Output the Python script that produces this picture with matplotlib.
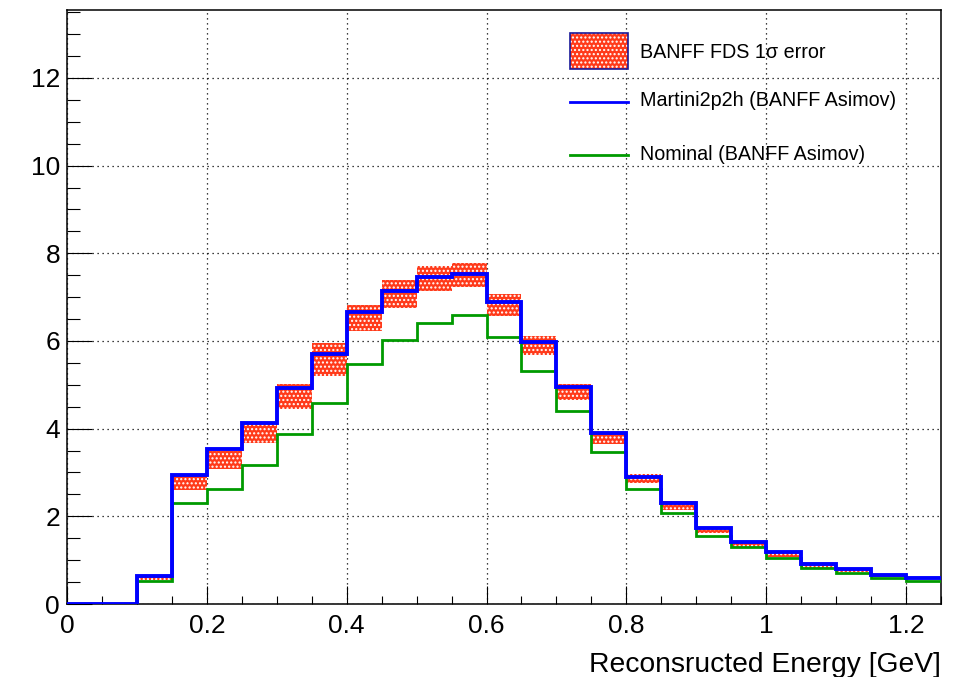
import matplotlib
matplotlib.use('Agg')
import matplotlib.pyplot as plt
from matplotlib.patches import Rectangle
from matplotlib.lines import Line2D
from matplotlib.ticker import MultipleLocator
import numpy as np

plt.rcParams['font.family'] = ['Liberation Sans', 'DejaVu Sans']

# bin edges, 0.05 GeV wide
edges = np.round(np.arange(0, 1.2501, 0.05), 3)

# Martini2p2h (BANFF Asimov)
martini = [0, 0, 0.63, 2.94, 3.53, 4.13, 4.92, 5.70, 6.66, 7.15, 7.46, 7.53,
           6.90, 5.97, 4.95, 3.90, 2.90, 2.31, 1.73, 1.42, 1.18, 0.91, 0.79,
           0.66, 0.59]
# Nominal (BANFF Asimov)
nominal = [0, 0, 0.53, 2.30, 2.63, 3.17, 3.87, 4.59, 5.48, 6.03, 6.41, 6.59,
           6.10, 5.31, 4.41, 3.47, 2.63, 2.07, 1.56, 1.29, 1.06, 0.83, 0.71,
           0.60, 0.53]
# BANFF FDS 1 sigma band
band_hi = [0, 0, 0.62, 2.91, 3.49, 4.13, 5.02, 5.95, 6.83, 7.40, 7.70, 7.79,
           7.08, 6.12, 5.02, 3.92, 2.97, 2.35, 1.74, 1.44, 1.18, 0.91, 0.80,
           0.67, 0.60]
band_lo = [0, 0, 0.55, 2.60, 3.08, 3.68, 4.44, 5.19, 6.23, 6.75, 7.13, 7.22,
           6.58, 5.68, 4.66, 3.65, 2.75, 2.15, 1.61, 1.31, 1.07, 0.83, 0.74,
           0.62, 0.56]

labels = ['BANFF FDS 1\u03c3 error', 'Martini2p2h (BANFF Asimov)',
          'Nominal (BANFF Asimov)']

band_col = '#ff3a1a'
blue = '#0000ff'
green = '#009a00'
W, H = 963, 677

fig = plt.figure(figsize=(W / 100, H / 100), dpi=100)
ax = fig.add_axes([67/W, 1 - 604/H, (941 - 67)/W, (604 - 10)/H])

lo = np.array(band_lo)
hi = np.array(band_hi)
ax.bar(edges[:-1], hi - lo, bottom=lo, width=0.05, align='edge',
       color=band_col, edgecolor='white', linewidth=0, hatch='....', zorder=2)
ax.stairs(nominal, edges, baseline=None, color=green, linewidth=2.0, zorder=3)
ax.stairs(martini, edges, baseline=None, color=blue, linewidth=2.8, zorder=4)

ax.set_xlim(0, 1.25)
ax.set_ylim(0, 13.55)
ax.xaxis.set_minor_locator(MultipleLocator(0.05))
ax.yaxis.set_major_locator(MultipleLocator(2))
ax.yaxis.set_minor_locator(MultipleLocator(0.5))
ax.set_xticks([0, 0.2, 0.4, 0.6, 0.8, 1.0, 1.2])
ax.set_xticklabels(['0', '0.2', '0.4', '0.6', '0.8', '1', '1.2'])
ax.tick_params(axis='both', which='both', direction='in', labelsize=19, width=0.8)
ax.tick_params(axis='y', which='major', length=18, pad=5)
ax.tick_params(axis='y', which='minor', length=9.5)
ax.tick_params(axis='x', which='major', length=13, pad=7)
ax.tick_params(axis='x', which='minor', length=6)
ax.grid(True, which='major', color='black', linestyle=(0, (1, 3)), linewidth=0.9)
for s in ax.spines.values():
    s.set_linewidth(1.1)

ax.set_xlabel('Reconsructed Energy [GeV]', loc='right', fontsize=20.3, labelpad=10)

# legend drawn by hand (ROOT TLegend without border)
def fx(px):
    return px / W

def fy(py):
    return 1 - py / H

fig.add_artist(Rectangle((fx(570), fy(69)), fx(628) - fx(570), fy(33) - fy(69),
                         transform=fig.transFigure, facecolor=band_col,
                         edgecolor='white', hatch='....', linewidth=0, zorder=10))
fig.add_artist(Rectangle((fx(570), fy(69)), fx(628) - fx(570), fy(33) - fy(69),
                         transform=fig.transFigure, facecolor='none',
                         edgecolor='#1a1a99', linewidth=1.2, zorder=11))
fig.add_artist(Line2D([fx(570), fx(628)], [fy(102), fy(102)],
                      transform=fig.transFigure, color=blue, linewidth=2.0, zorder=10))
fig.add_artist(Line2D([fx(570), fx(628)], [fy(155), fy(155)],
                      transform=fig.transFigure, color=green, linewidth=2.0, zorder=10))
for lab, py in zip(labels, [52, 101, 154]):
    fig.text(fx(640), fy(py), lab, fontsize=14.2, va='center', ha='left', zorder=12)

fig.savefig('out.png', dpi=100)
